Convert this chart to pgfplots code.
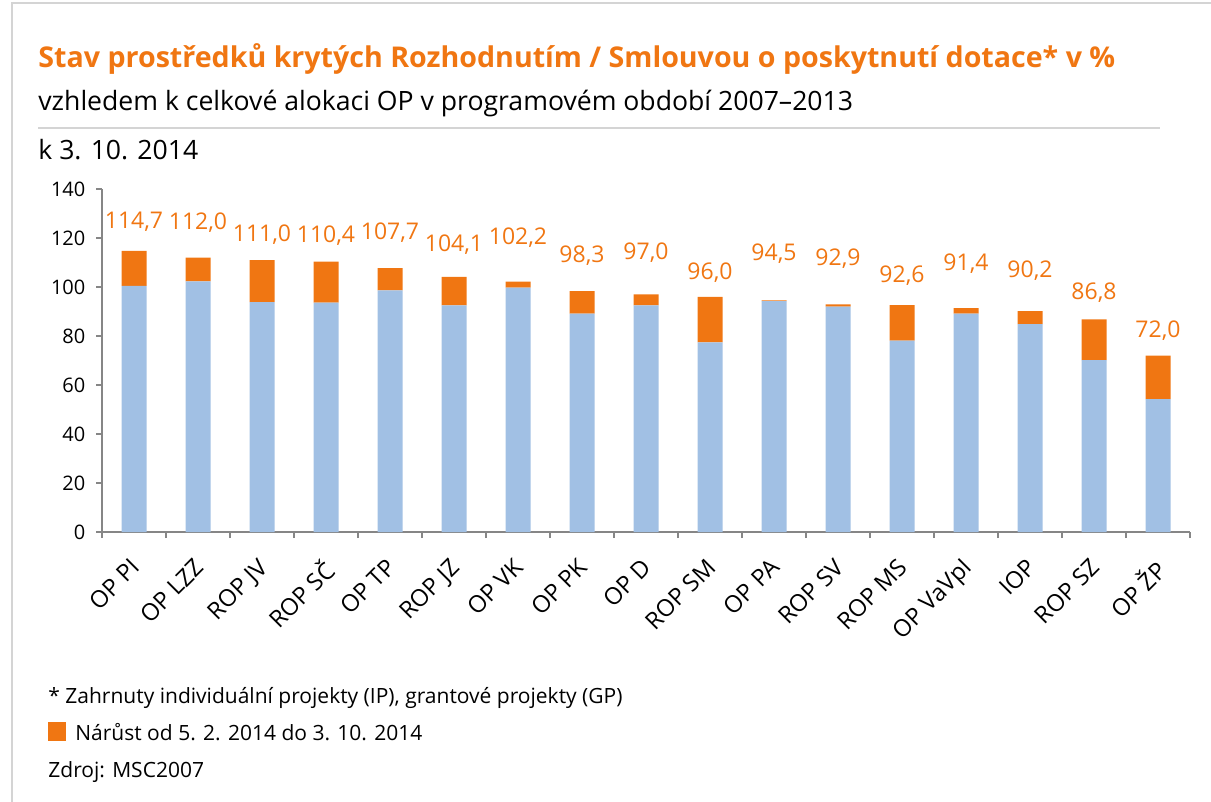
\documentclass[border=0pt]{standalone}
\usepackage{pgfplots}
\pgfplotsset{compat=1.18}
\usepackage{pgfplotstable}
\usepackage{fontspec}
\setmainfont{Open Sans}

\definecolor{oranzova}{RGB}{240,118,18}
\definecolor{modra}{RGB}{161,192,228}
\definecolor{osa}{RGB}{134,134,134}
\definecolor{ramec}{RGB}{212,212,212}

% x, zaklad (modra cast), narust (oranzova), celkem
\pgfplotstableread{
x zaklad narust celkem
0  100.5 14.2 114.7
1  102.3  9.7 112.0
2   93.8 17.2 111.0
3   93.6 16.8 110.4
4   98.6  9.1 107.7
5   92.5 11.6 104.1
6   99.7  2.5 102.2
7   89.1  9.2  98.3
8   92.5  4.5  97.0
9   77.4 18.6  96.0
10  94.2  0.3  94.5
11  92.0  0.9  92.9
12  78.1 14.5  92.6
13  89.1  2.3  91.4
14  84.8  5.4  90.2
15  70.2 16.6  86.8
16  54.2 17.8  72.0
}\data

\begin{document}
\begin{tikzpicture}
% plocha obrazku 1211 x 802 px, 1 px = 0.5 pt
\path[use as bounding box] (0,0) rectangle (605.5pt,-401pt);
\draw[ramec, line width=0.8pt] (6pt,-401pt) -- (6pt,-1.5pt) -- (605.5pt,-1.5pt);

\begin{axis}[
    at={(51pt,-266pt)}, anchor=south west,
    scale only axis,
    width=544pt, height=171.5pt,
    ybar stacked,
    bar width=12.5pt,
    xmin=-0.5, xmax=16.5,
    ymin=0, ymax=140,
    axis x line*=bottom,
    axis y line*=left,
    axis line style={draw=osa, line width=0.7pt, -},
    tick align=outside,
    tick style={draw=osa, line width=0.7pt},
    major tick length=2.8pt,
    ytick={0,20,...,140},
    xtick={0,...,16},
    xticklabels={OP PI, OP LZZ, ROP JV, ROP SČ, OP TP, ROP JZ, OP VK, OP PK,
        OP D, ROP SM, OP PA, ROP SV, ROP MS, OP VaVpI, IOP, ROP SZ, OP ŽP},
    x tick style={draw=none},
    minor xtick={-0.5,0.5,...,16.5},
    minor x tick style={draw=osa, line width=0.7pt},
    minor tick length=3pt,
    xticklabel style={xshift=-2.5pt, yshift=-8pt, rotate=45, anchor=north east, font=\fontsize{11.8}{13}\selectfont, inner sep=1pt},
    yticklabel style={font=\fontsize{10}{12}\selectfont, xshift=-2pt},
    /pgf/number format/assume math mode=true,
    clip=false,
]
\addplot[fill=modra, draw=none] table[x=x, y=zaklad] {\data};
\addplot[fill=oranzova, draw=none,
    nodes near coords,
    point meta=explicit,
    nodes near coords style={
        text=oranzova, font=\fontsize{11.5}{13}\selectfont, anchor=south, yshift=15pt,
        /pgf/number format/.cd, fixed, fixed zerofill, precision=1, use comma,
        assume math mode=true},
] table[x=x, y=narust, meta=celkem] {\data};
\end{axis}

\begin{scope}[x=0.5pt, y=-0.5pt]
\node[anchor=base west, inner sep=0, text=oranzova, font=\fontsize{14.3}{16}\selectfont\bfseries] at (38,68) {Stav prostředků krytých Rozhodnutím / Smlouvou o poskytnutí dotace* v \%};
\node[anchor=base west, inner sep=0, font=\fontsize{13.3}{15}\selectfont] at (38,111) {vzhledem k celkové alokaci OP v programovém období 2007–2013};
\draw[ramec, line width=1pt] (38,128) -- (1160,128);
\node[anchor=base west, inner sep=0, font=\fontsize{13.3}{15}\selectfont] at (38,160) {k 3. 10. 2014};
\node[anchor=base west, inner sep=0, font=\fontsize{10.5}{12}\selectfont] at (48,703) {* Zahrnuty individuální projekty (IP), grantové projekty (GP)};
\fill[oranzova] (48,722) rectangle (66,741);
\node[anchor=base west, inner sep=0, font=\fontsize{10.5}{12}\selectfont] at (75,740) {Nárůst od 5. 2. 2014 do 3. 10. 2014};
\node[anchor=base west, inner sep=0, font=\fontsize{10.5}{12}\selectfont] at (48,777) {Zdroj: MSC2007};
\end{scope}
\end{tikzpicture}
\end{document}
